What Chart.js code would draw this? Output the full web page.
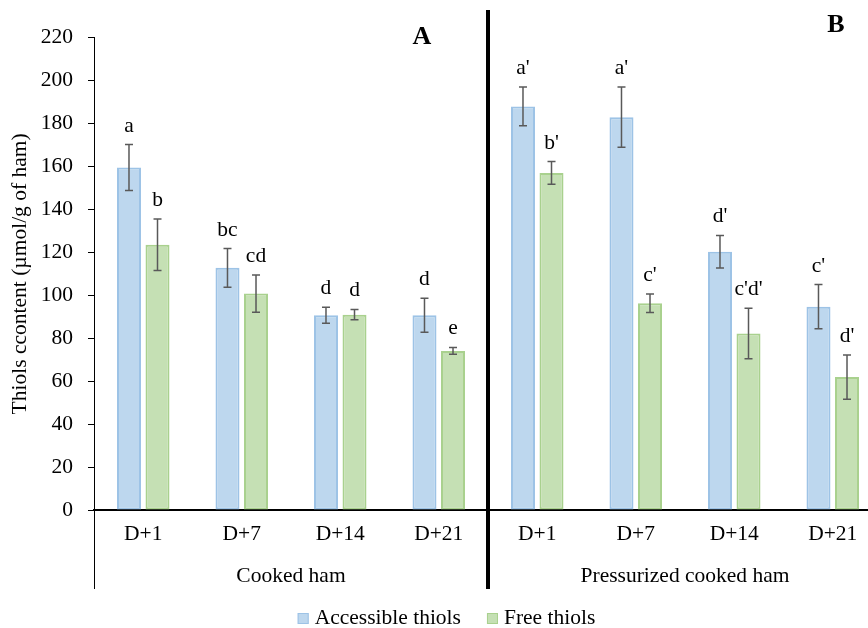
<!DOCTYPE html>
<html>
<head>
<meta charset="utf-8">
<script src="https://cdn.jsdelivr.net/npm/chart.js@4.4.1/dist/chart.umd.min.js"></script>
<style>
html,body{margin:0;padding:0;overflow:hidden;background:#fff;}
#wrap{width:900px;height:628px;}
</style>
</head>
<body>
<div id="wrap"><canvas id="c" width="900" height="628"></canvas></div>
<script>
// ---- data ----
const categories = ['D+1','D+7','D+14','D+21','D+1','D+7','D+14','D+21'];
const groups = ['Cooked ham','Pressurized cooked ham'];
const panelLetters = ['A','B'];
const accessible = [159.5, 112.8, 90.7, 90.7, 188.0, 183.0, 120.3, 94.7];
const accessibleErr = [10.7, 9.0, 3.7, 7.9, 9.0, 14.0, 7.6, 10.3];
const free = [123.6, 100.8, 91.0, 74.1, 157.0, 96.3, 82.2, 61.9];
const freeErr = [12.0, 8.7, 2.4, 1.6, 5.3, 4.3, 11.8, 10.3];
const accessibleLetters = ['a','bc','d','d',"a'","a'","d'","c'"];
const freeLetters = ['b','cd','d','e',"b'","c'","c'd'","d'"];
const yTicks = [0,20,40,60,80,100,120,140,160,180,200,220];

const FONT = "'Liberation Serif','Times New Roman',serif";
const FS = 21.5;
Chart.defaults.font.family = FONT;
Chart.defaults.color = '#000';

const errs = [accessibleErr, freeErr];
const letters = [accessibleLetters, freeLetters];

const overlay = {
  id: 'overlay',
  afterDatasetsDraw(chart) {
    const ctx = chart.ctx;
    const y = chart.scales.y;
    ctx.save();
    chart.data.datasets.forEach((ds, di) => {
      const meta = chart.getDatasetMeta(di);
      meta.data.forEach((bar, i) => {
        const v = ds.data[i], e = errs[di][i];
        const yt = y.getPixelForValue(v + e), yb = y.getPixelForValue(v - e);
        ctx.strokeStyle = '#595959';
        ctx.lineWidth = 1.5;
        ctx.beginPath();
        ctx.moveTo(bar.x, yt); ctx.lineTo(bar.x, yb);
        ctx.moveTo(bar.x - 4, yt); ctx.lineTo(bar.x + 4, yt);
        ctx.moveTo(bar.x - 4, yb); ctx.lineTo(bar.x + 4, yb);
        ctx.stroke();
        ctx.fillStyle = '#000';
        ctx.font = FS + 'px ' + FONT;
        ctx.textAlign = 'center';
        ctx.textBaseline = 'alphabetic';
        ctx.fillText(letters[di][i], bar.x, yt - 13);
      });
    });
    ctx.restore();
  },
  afterDraw(chart) {
    const ctx = chart.ctx;
    const x = chart.scales.x;
    const a = chart.chartArea;
    ctx.save();
    // y-axis extension below the x axis
    ctx.strokeStyle = '#000';
    ctx.lineWidth = 1;
    ctx.beginPath();
    ctx.moveTo(a.left + 0.5, a.bottom);
    ctx.lineTo(a.left + 0.5, 589);
    ctx.stroke();
    // thick divider
    const mid = (x.getPixelForValue(3) + x.getPixelForValue(4)) / 2;
    ctx.lineWidth = 4;
    ctx.beginPath();
    ctx.moveTo(mid, 10);
    ctx.lineTo(mid, 589);
    ctx.stroke();
    // group labels
    ctx.fillStyle = '#000';
    ctx.font = FS + 'px ' + FONT;
    ctx.textAlign = 'center';
    ctx.textBaseline = 'middle';
    groups.forEach((g, gi) => {
      const cx = (x.getPixelForValue(gi * 4) + x.getPixelForValue(gi * 4 + 3)) / 2;
      ctx.fillText(g, cx, 576);
    });
    // panel letters
    ctx.font = 'bold 26px ' + FONT;
    ctx.fillText(panelLetters[0], 422, 37);
    ctx.fillText(panelLetters[1], 836, 25);
    // legend
    ctx.font = FS + 'px ' + FONT;
    ctx.textAlign = 'left';
    const items = chart.data.datasets.map(d => ({t: d.label, f: d.backgroundColor, b: d.borderColor, w: ctx.measureText(d.label).width}));
    const box = 11, gap = 6, sep = 26;
    let total = 0;
    items.forEach((it, i) => { total += box + gap + it.w + (i < items.length - 1 ? sep : 0); });
    let cx = 446.5 - total / 2;
    items.forEach(it => {
      ctx.fillStyle = it.f;
      ctx.fillRect(cx, 613, box, box);
      ctx.strokeStyle = it.b;
      ctx.lineWidth = 1;
      ctx.strokeRect(cx + 0.5, 613.5, box - 1, box - 1);
      ctx.fillStyle = '#000';
      ctx.fillText(it.t, cx + box + gap, 618);
      cx += box + gap + it.w + sep;
    });
    ctx.restore();
  }
};

new Chart(document.getElementById('c'), {
  type: 'bar',
  data: {
    labels: categories,
    datasets: [
      {label: 'Accessible thiols', data: accessible, backgroundColor: 'rgb(189,215,238)', borderColor: 'rgb(157,195,230)', borderWidth: 2, borderSkipped: false},
      {label: 'Free thiols', data: free, backgroundColor: 'rgb(197,224,180)', borderColor: 'rgb(169,209,142)', borderWidth: 2, borderSkipped: false}
    ]
  },
  options: {
    responsive: false,
    animation: false,
    devicePixelRatio: 1,
    categoryPercentage: 0.579,
    barPercentage: 0.842,
    layout: {padding: {top: 37.7, right: 18, bottom: 0, left: 0}},
    plugins: {legend: {display: false}, tooltip: {enabled: false}},
    scales: {
      x: {
        grid: {display: false, drawTicks: false},
        border: {display: true, color: '#000', width: 2},
        ticks: {font: {size: FS}, color: '#000', padding: 11, maxRotation: 0, autoSkip: false},
        afterFit(s) { s.height = 118; }
      },
      y: {
        min: 0, max: 220,
        afterBuildTicks(s) { s.ticks = yTicks.map(v => ({value: v})); },
        grid: {drawOnChartArea: false, drawTicks: true, tickLength: 6, color: '#000', lineWidth: 1},
        border: {display: true, color: '#000', width: 1},
        ticks: {font: {size: FS}, color: '#000', padding: 15},
        title: {display: true, text: 'Thiols ccontent (µmol/g of ham)', font: {size: FS}, color: '#000', padding: {top: 7, bottom: 0}},
        afterFit(s) { s.width = 94; }
      }
    }
  },
  plugins: [overlay]
});
</script>
</body>
</html>
